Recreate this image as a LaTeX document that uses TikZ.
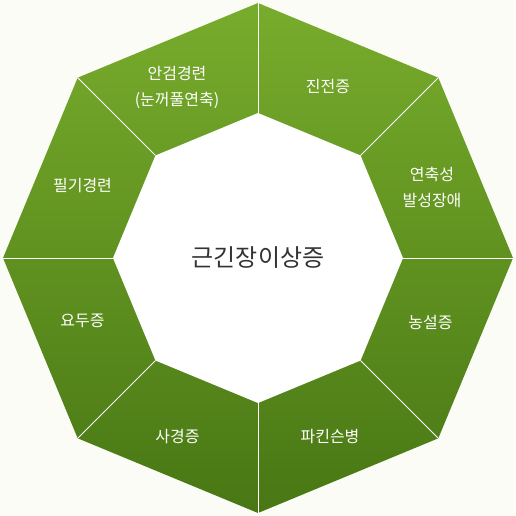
\documentclass[tikz,border=0pt]{standalone}
\usepackage{fontspec}
\newfontfamily\kr{Noto Sans CJK KR}
\usetikzlibrary{calc}
\definecolor{topgreen}{RGB}{120,172,44}
\definecolor{botgreen}{RGB}{72,119,20}
\definecolor{bgcream}{RGB}{252,252,247}
\tikzset{lbl/.style={text=white, font=\kr\fontsize{16}{26}\selectfont, align=center}}
\tikzset{ctr/.style={text=black!80, font=\kr\fontsize{24}{24}\selectfont}}
\tikzset{divider/.style={white, line width=0.9pt}}

\begin{document}
\begin{tikzpicture}[x=1pt, y=1pt]
            \fill[bgcream] (0,0) rectangle (515,516);
            \useasboundingbox (0,0) rectangle (515,516);
            \coordinate (C) at (258,258);
            \foreach \k in {1,...,8}{
              \coordinate (o\k) at ($(C)+({(\k-1)*45}:255)$);
              \coordinate (i\k) at ($(C)+({(\k-1)*45}:145)$);
            }
            \shade[top color=topgreen, bottom color=botgreen]
              (o1)--(o2)--(o3)--(o4)--(o5)--(o6)--(o7)--(o8)--cycle;
            \fill[white] (i1)--(i2)--(i3)--(i4)--(i5)--(i6)--(i7)--(i8)--cycle;
            \foreach \k in {1,...,8}
              \draw[divider] (i\k) -- (o\k);

            \node[ctr] (center) at (C) {근긴장이상증};

            \node[lbl] (tremor) at (328,429) {진전증};
            \node[lbl] (blepharo) at (177,429) {안검경련\\(눈꺼풀연축)};
            \node[lbl] (writer) at (82.5,330) {필기경련};
            \node[lbl] (headnod) at (82.5,195) {요두증};
            \node[lbl] (torti) at (177.5,79) {사경증};
            \node[lbl] (parkin) at (330,79) {파킨슨병};
            \node[lbl] (tongue) at (430.5,194) {농설증};
            \node[lbl] (spasm) at (432,328.5) {연축성\\발성장애};
\end{tikzpicture}
\end{document}
